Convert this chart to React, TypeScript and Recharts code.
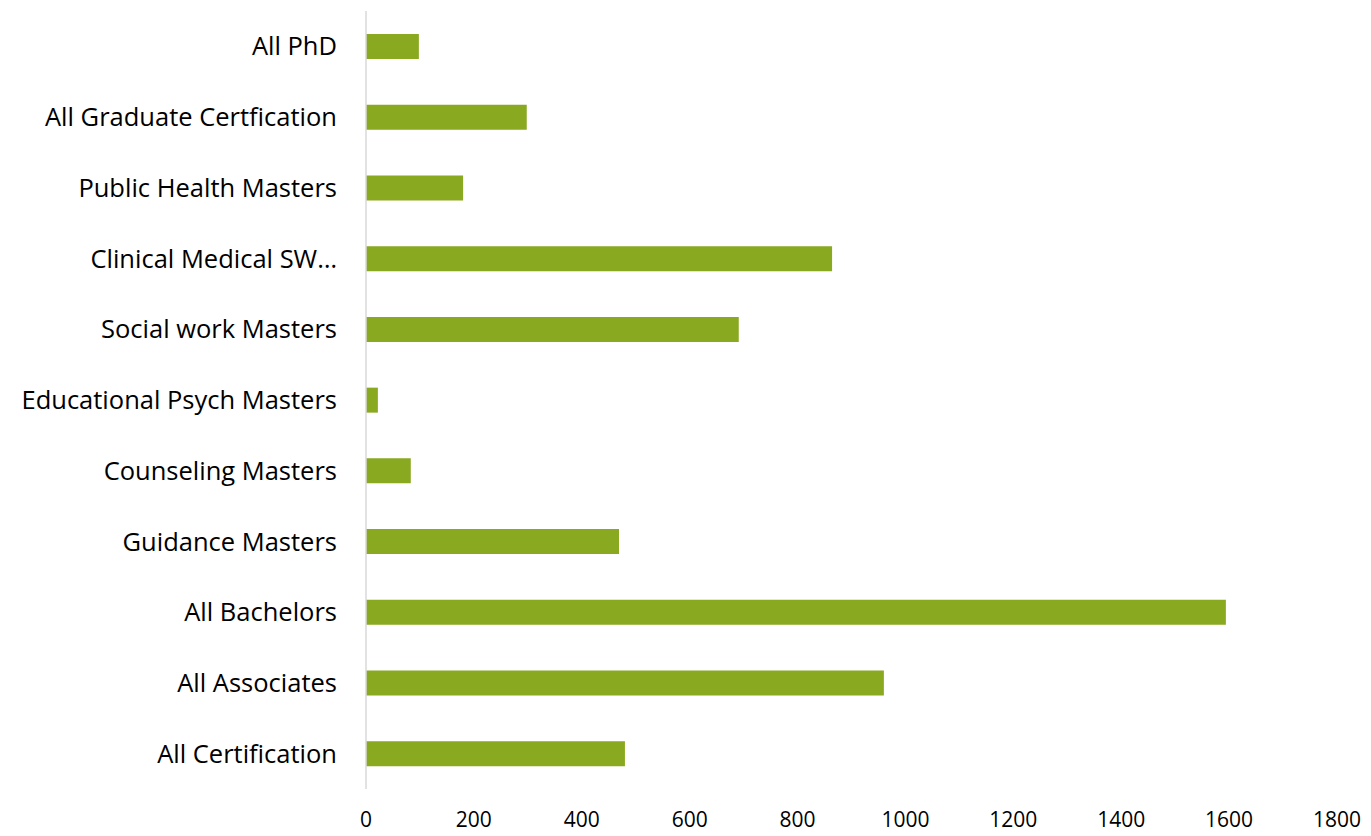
import React from 'react';
import { BarChart, Bar, XAxis, YAxis } from 'recharts';

const categories = [
  'All PhD',
  'All Graduate Certfication',
  'Public Health Masters',
  'Clinical Medical SW…',
  'Social work Masters',
  'Educational Psych Masters',
  'Counseling Masters',
  'Guidance Masters',
  'All Bachelors',
  'All Associates',
  'All Certification',
];

const values = [98, 298, 180, 864, 691, 22, 83, 469, 1594, 960, 480];

const xTicks = [0, 200, 400, 600, 800, 1000, 1200, 1400, 1600, 1800];

const data = categories.map((name, i) => ({ name, value: values[i] }));

export default function App() {
  return (
    <div style={{ position: 'absolute', left: 0, top: 0, background: '#fff' }}>
      <BarChart
        width={1371}
        height={836}
        data={data}
        layout="vertical"
        margin={{ top: 11, right: 34, bottom: 0, left: 0 }}
        barCategoryGap="32%"
      >
        <XAxis
          type="number"
          domain={[0, 1800]}
          ticks={xTicks}
          height={47}
          axisLine={false}
          tickLine={false}
          tickSize={0}
          tickMargin={23}
          interval={0}
          tick={{ fill: '#000', fontSize: 21, fontFamily: 'Open Sans' }}
        />
        <YAxis
          type="category"
          dataKey="name"
          width={366}
          axisLine={{ stroke: '#d9d9d9', strokeWidth: 1.5 }}
          tickLine={false}
          tickSize={0}
          tickMargin={29}
          interval={0}
          tick={{ fill: '#000', fontSize: 25.5, fontFamily: 'Open Sans' }}
        />
        <Bar dataKey="value" fill="#89A920" barSize={25} isAnimationActive={false} />
      </BarChart>
    </div>
  );
}
